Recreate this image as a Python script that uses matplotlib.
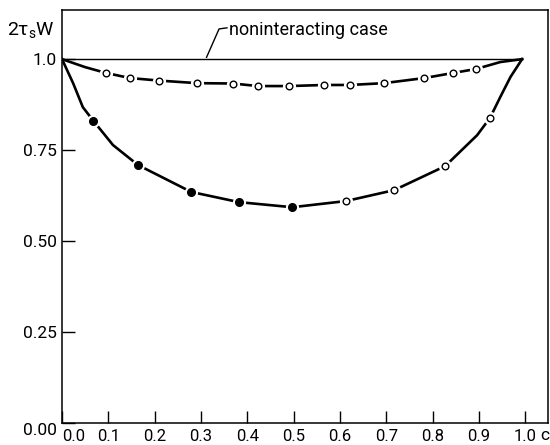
import matplotlib.pyplot as plt

plt.rcParams['font.family'] = ['Roboto', 'DejaVu Sans']

# upper curve (open circles)
upper_c = [0.095, 0.147, 0.210, 0.292, 0.369, 0.423, 0.490, 0.566, 0.622, 0.695, 0.782, 0.844, 0.894]
upper_w = [0.962, 0.948, 0.941, 0.934, 0.933, 0.926, 0.926, 0.929, 0.929, 0.934, 0.948, 0.962, 0.973]

# lower curve: filled circles then open circles
lower_fill_c = [0.068, 0.164, 0.279, 0.382, 0.497]
lower_fill_w = [0.830, 0.709, 0.635, 0.607, 0.593]
lower_open_c = [0.613, 0.717, 0.827, 0.924]
lower_open_w = [0.610, 0.640, 0.706, 0.839]

# unmarked points
upper_extra_c = [0.0, 0.050, 0.946, 0.993]
upper_extra_w = [1.0, 0.978, 0.992, 1.0]
lower_extra_c = [0.0, 0.024, 0.045, 0.110, 0.896, 0.946, 0.968, 0.993]
lower_extra_w = [1.0, 0.934, 0.868, 0.764, 0.791, 0.896, 0.951, 1.0]

# noninteracting case
free_c = [0.0, 0.993]
free_w = [1.0, 1.0]

xticks = [0.0, 0.1, 0.2, 0.3, 0.4, 0.5, 0.6, 0.7, 0.8, 0.9, 1.0]
xticklabels = ["0.0", "0.1", "0.2", "0.3", "0.4", "0.5", "0.6", "0.7", "0.8", "0.9", "1.0"]
yticks = [0.0, 0.25, 0.5, 0.75, 1.0]
yticklabels = ["0.00", "0.25", "0.50", "0.75", "1.0"]


def merge(*pairs):
    pts = sorted(p for cs, ws in pairs for p in zip(cs, ws))
    return [p[0] for p in pts], [p[1] for p in pts]


fig = plt.figure(figsize=(5.5, 4.45), dpi=100)
ax = fig.add_axes([0.1127, 0.0494, 0.8837, 0.9281])

ax.plot(free_c, free_w, color='black', lw=1.0)

up_c, up_w = merge((upper_c, upper_w), (upper_extra_c, upper_extra_w))
lo_c, lo_w = merge((lower_fill_c, lower_fill_w), (lower_open_c, lower_open_w),
                   (lower_extra_c, lower_extra_w))
ax.plot(up_c, up_w, color='black', lw=1.9, solid_joinstyle='round')
ax.plot(lo_c, lo_w, color='black', lw=1.9, solid_joinstyle='round')

# white halo so the line breaks around each marker
for cs, ws in [(upper_c, upper_w), (lower_fill_c, lower_fill_w), (lower_open_c, lower_open_w)]:
    ax.plot(cs, ws, 'o', ms=8.5, mfc='white', mec='white', zorder=3)

ax.plot(upper_c, upper_w, 'o', ms=4.8, mfc='white', mec='black', mew=1.0, zorder=4)
ax.plot(lower_open_c, lower_open_w, 'o', ms=4.8, mfc='white', mec='black', mew=1.0, zorder=4)
ax.plot(lower_fill_c, lower_fill_w, 'o', ms=5.5, mfc='black', mec='black', zorder=4)

# annotation with leader
ax.plot([0.312, 0.339, 0.356], [1.005, 1.083, 1.086], color='black', lw=1.0)
ax.text(0.360, 1.079, "noninteracting case", fontsize=13, va='center', ha='left')

ax.set_xlim(0, 1.049)
ax.set_ylim(0, 1.135)
ax.set_xticks(xticks)
ax.set_xticklabels(xticklabels)
ax.set_yticks(yticks)
ax.set_yticklabels(yticklabels)
ax.tick_params(direction='in', length=9, width=1.0, labelsize=12.5, pad=4)
ax.tick_params(axis='x', pad=4, labelsize=12)
ax.get_xticklabels()[0].set_horizontalalignment('left')
ax.get_yticklabels()[0].set_verticalalignment('top')
for s in ax.spines.values():
    s.set_linewidth(1.1)

fig.text(0.012, 0.93, "2τ$_\\mathregular{s}$W", fontsize=14, va='center', ha='left')
fig.text(0.983, 0.022, "c", fontsize=12.5, va='center', ha='left')

fig.savefig("out.png", dpi=100)
